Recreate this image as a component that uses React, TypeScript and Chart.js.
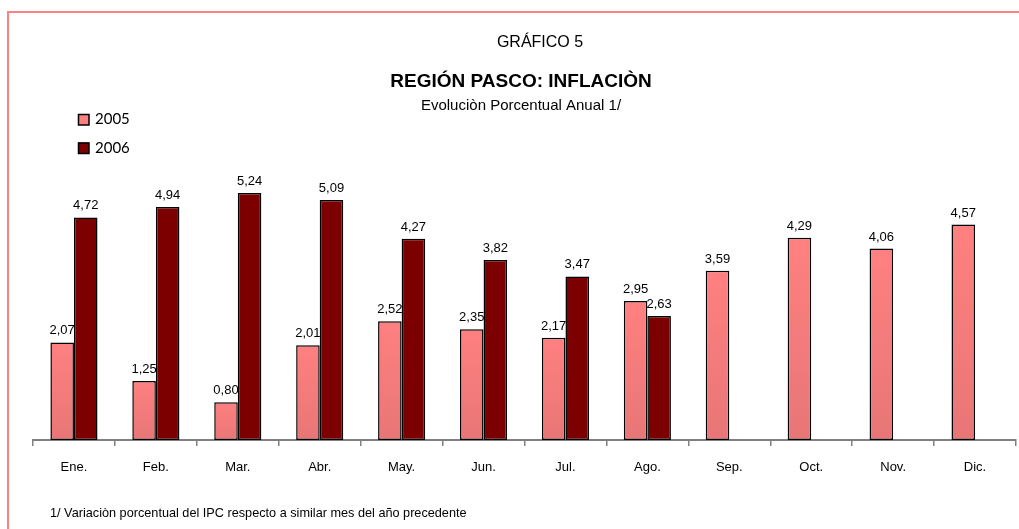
import React, { useEffect, useRef } from 'react';
import { Chart, registerables } from 'chart.js';

Chart.register(...registerables);

const categories = ['Ene.', 'Feb.', 'Mar.', 'Abr.', 'May.', 'Jun.', 'Jul.', 'Ago.', 'Sep.', 'Oct.', 'Nov.', 'Dic.'];
const series2005 = [2.07, 1.25, 0.8, 2.01, 2.52, 2.35, 2.17, 2.95, 3.59, 4.29, 4.06, 4.57];
const series2006 = [4.72, 4.94, 5.24, 5.09, 4.27, 3.82, 3.47, 2.63, null, null, null, null];
const seriesLabels = ['2005', '2006'];
const seriesColors = ['#FF8080', '#7D0000'];

const headerLine1 = 'GRÁFICO 5';
const headerLine2 = 'REGIÓN PASCO: INFLACIÒN';
const headerLine3 = 'Evoluciòn Porcentual Anual 1/';
const footnote = '1/ Variaciòn porcentual del IPC respecto a similar mes del año precedente';

const FONT = '"Liberation Sans", Arial, sans-serif';

const fmt = (v: number) => v.toFixed(2).replace('.', ',');

const decorPlugin = {
  id: 'decor',
  beforeDraw(chart: any) {
    const ctx = chart.ctx;
    ctx.save();
    ctx.fillStyle = '#ffffff';
    ctx.fillRect(0, 0, chart.width, chart.height);
    ctx.strokeStyle = '#FF8080';
    ctx.lineWidth = 2;
    ctx.strokeRect(8, 12, chart.width + 10, chart.height + 10);
    ctx.restore();
  },
  afterDraw(chart: any) {
    const ctx = chart.ctx;
    ctx.save();
    ctx.fillStyle = '#000';
    ctx.textAlign = 'center';
    ctx.textBaseline = 'middle';
    ctx.font = `16px ${FONT}`;
    ctx.fillText(headerLine1, 540, 43);
    ctx.font = `bold 19px ${FONT}`;
    ctx.fillText(headerLine2, 521, 82);
    ctx.font = `15px ${FONT}`;
    ctx.fillText(headerLine3, 521, 106);

    // legend
    ctx.textAlign = 'left';
    ctx.font = `15px Lato, "Open Sans", sans-serif`;
    chart.data.datasets.forEach((ds: any, i: number) => {
      const y = 119.5 + i * 28.5;
      ctx.fillStyle = seriesColors[i];
      ctx.fillRect(78, y - 5.5, 11, 11);
      ctx.strokeStyle = '#000';
      ctx.lineWidth = 1.5;
      ctx.strokeRect(78.5, y - 5, 10.5, 10.5);
      ctx.fillStyle = '#000';
      ctx.fillText(ds.label, 95, y);
    });

    // data labels
    ctx.textAlign = 'center';
    ctx.textBaseline = 'alphabetic';
    ctx.font = `13px ${FONT}`;
    ctx.fillStyle = '#000';
    chart.data.datasets.forEach((ds: any, i: number) => {
      const meta = chart.getDatasetMeta(i);
      meta.data.forEach((bar: any, j: number) => {
        const v = ds.data[j];
        if (v === null || v === undefined) return;
        ctx.fillText(fmt(v), bar.x, bar.y - 8);
      });
    });

    // footnote
    ctx.textAlign = 'left';
    ctx.textBaseline = 'middle';
    ctx.font = `12.7px ${FONT}`;
    ctx.fillText(footnote, 50, 513);
    ctx.restore();
  },
};

function gradient2005(c: any) {
  const chart = c.chart;
  const y = chart.scales?.y;
  if (!y || c.raw === null || c.raw === undefined) return '#FF8080';
  const top = y.getPixelForValue(c.raw);
  const bottom = y.getPixelForValue(0);
  if (!isFinite(top) || !isFinite(bottom) || top === bottom) return '#FF8080';
  const g = chart.ctx.createLinearGradient(0, top, 0, bottom);
  g.addColorStop(0, '#FF8080');
  g.addColorStop(1, '#E87676');
  return g;
}

export default function App() {
  const ref = useRef<HTMLCanvasElement | null>(null);
  useEffect(() => {
    if (!ref.current) return;
    const chart = new Chart(ref.current, {
      type: 'bar',
      data: {
        labels: categories,
        datasets: [
          {
            label: seriesLabels[0],
            data: series2005,
            backgroundColor: gradient2005,
            borderColor: '#000',
            borderWidth: 1.5,
            borderSkipped: false,
          },
          {
            label: seriesLabels[1],
            data: series2006,
            backgroundColor: seriesColors[1],
            borderColor: '#000',
            borderWidth: 1.5,
            borderSkipped: false,
          },
        ],
      },
      options: {
        responsive: false,
        animation: false,
        layout: { padding: { left: 33, right: 3, top: 110, bottom: 0 } },
        datasets: { bar: { categoryPercentage: 0.575, barPercentage: 1 } },
        plugins: { legend: { display: false }, tooltip: { enabled: false }, title: { display: false } },
        scales: {
          x: {
            grid: { display: true, drawOnChartArea: false, drawTicks: true, tickLength: 6, color: '#808080', lineWidth: 1.5 },
            border: { display: true, color: '#808080', width: 2 },
            ticks: { font: { family: FONT, size: 13 }, color: '#000', padding: 14, maxRotation: 0 },
            afterFit: (s: any) => { s.height = 89; },
          },
          y: { display: false, min: 0, max: 7 },
        },
      },
      plugins: [decorPlugin],
    });
    return () => chart.destroy();
  }, []);
  return (
    <div style={{ position: 'absolute', left: 0, top: 0, width: 1019, height: 529 }}>
      <canvas ref={ref} width={1019} height={529} />
    </div>
  );
}
